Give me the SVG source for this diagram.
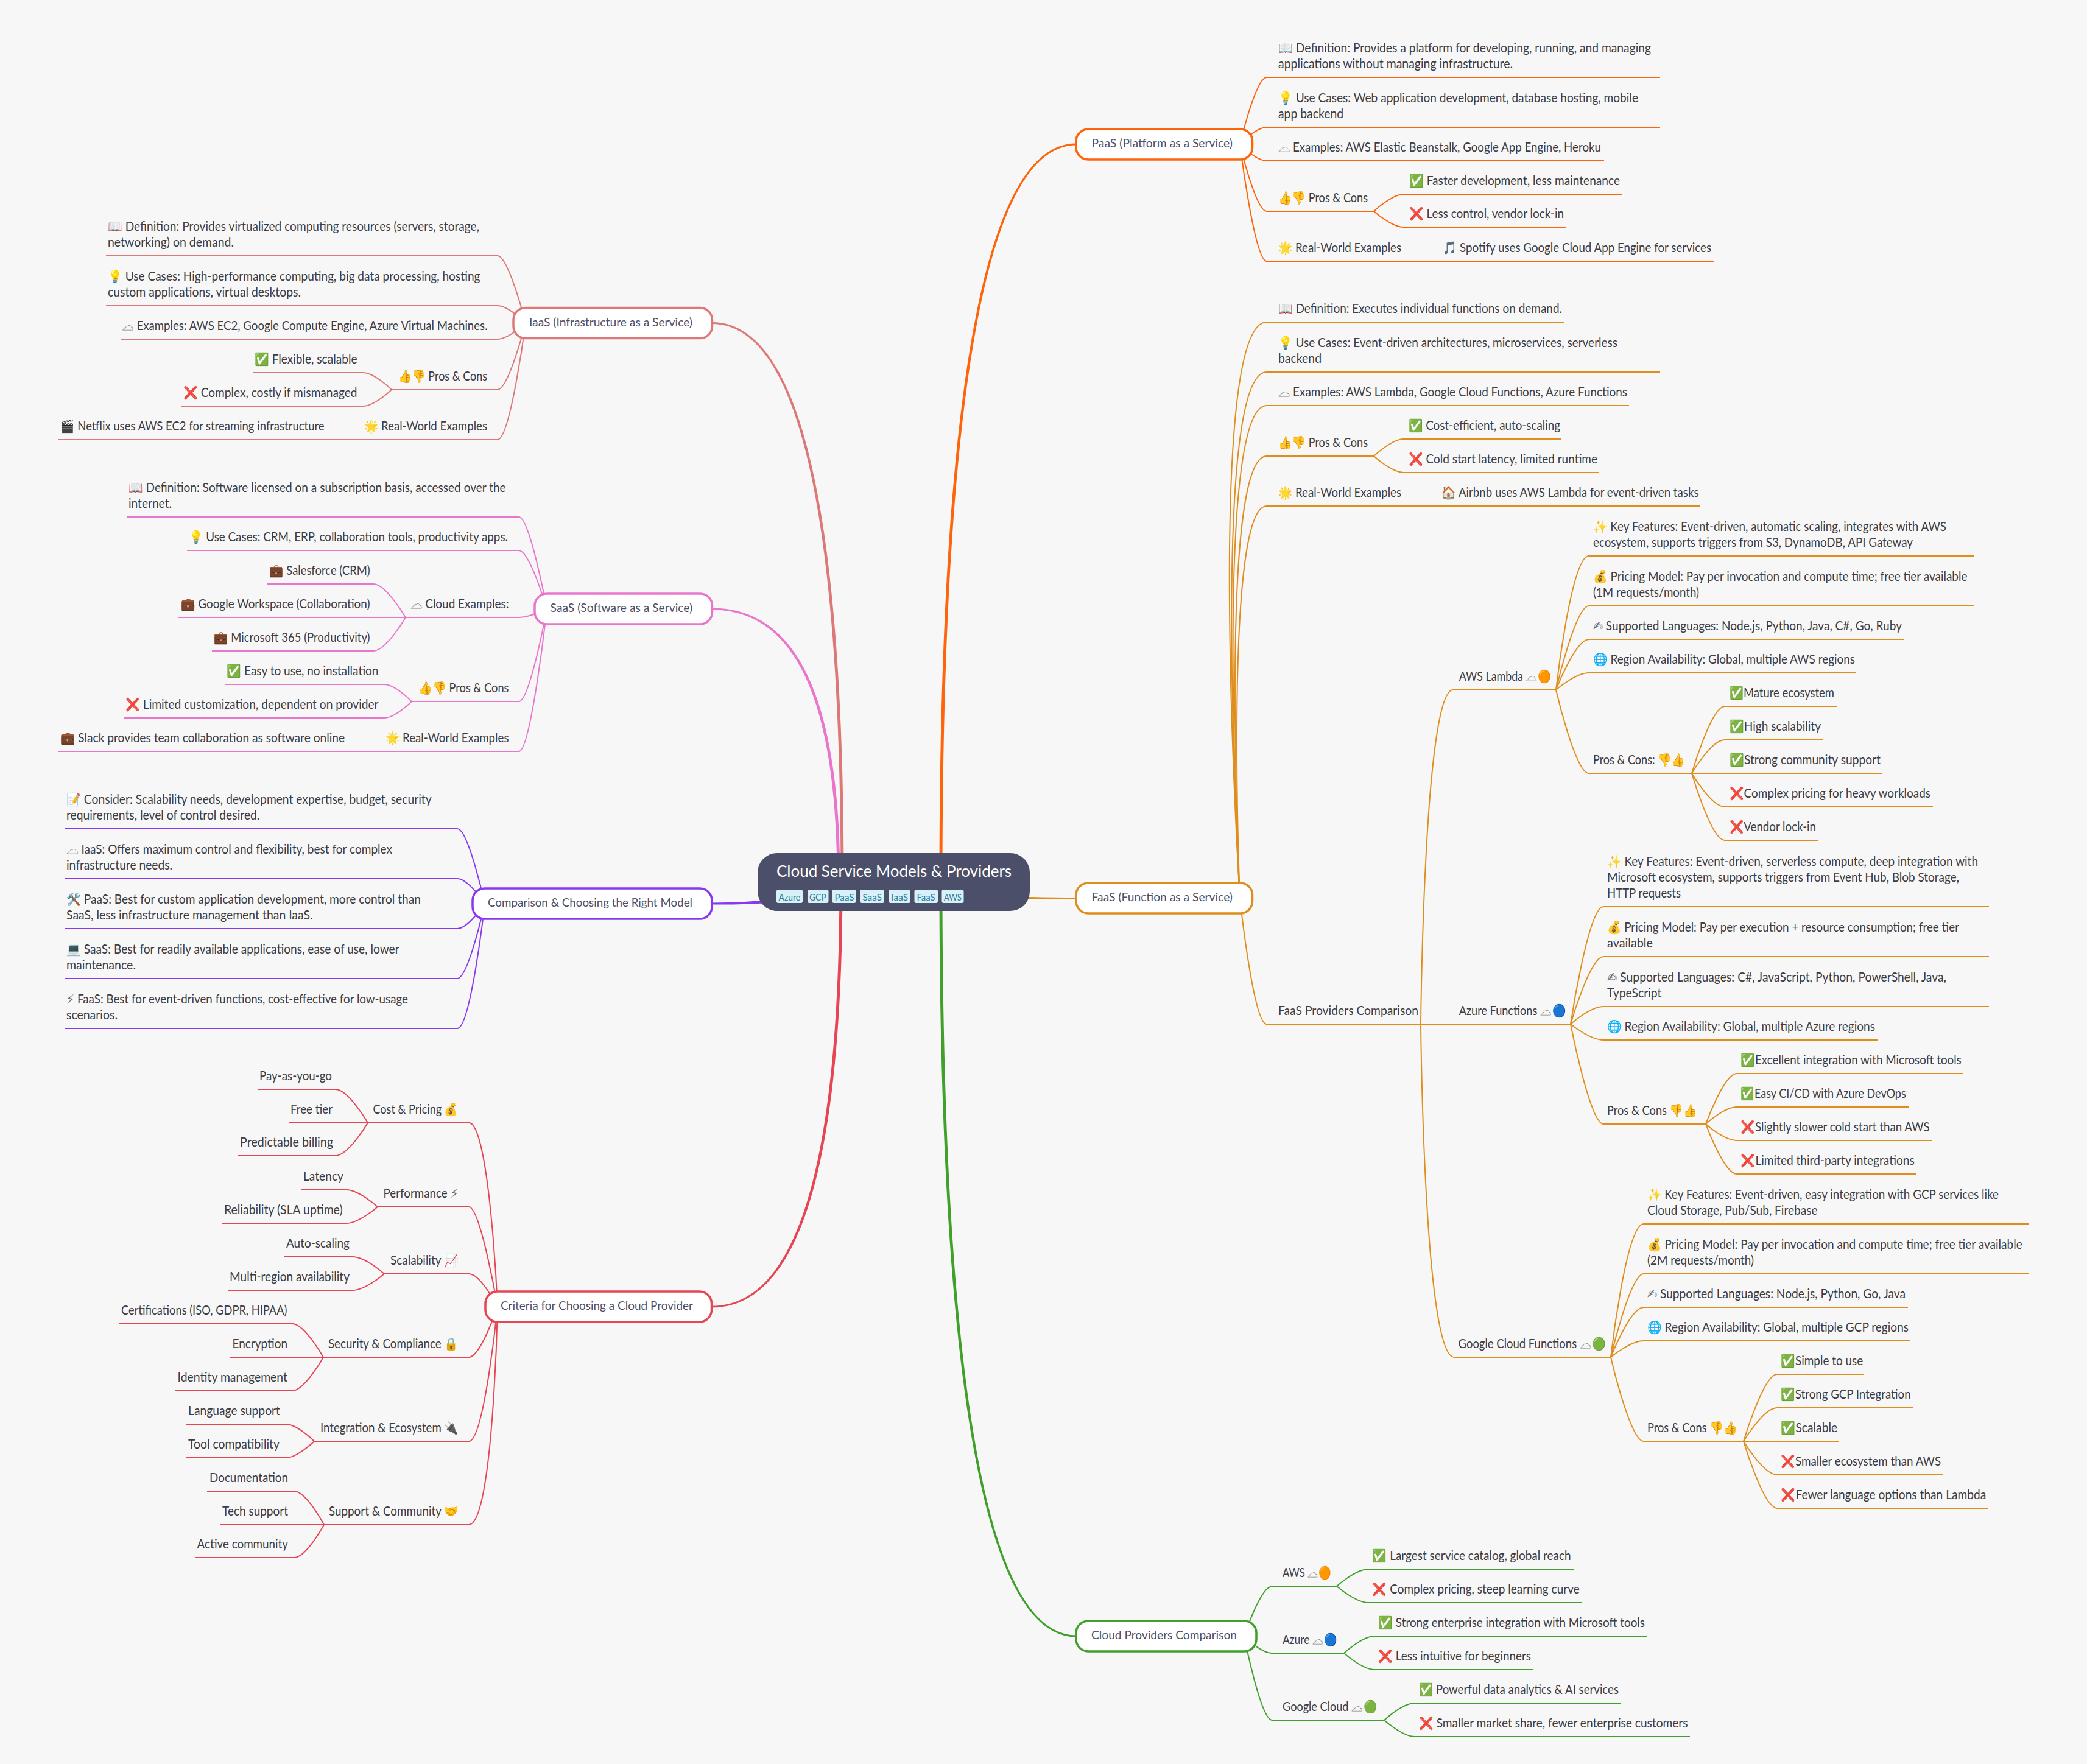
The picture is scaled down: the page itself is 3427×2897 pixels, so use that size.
<svg xmlns="http://www.w3.org/2000/svg" width="3427" height="2897" viewBox="0 0 3427 2897">
<style>
.bg{fill:#f7f7f7}
text{font-family:"Lato","Noto Sans","Noto Color Emoji",sans-serif;}
.t{font-size:20.5px;fill:#3c3c44;transform:translate(0,1.5px)}
.m{font-size:20px;fill:#4c4f69;transform:translate(0,-1.5px)}
.s{font-family:"DejaVu Sans",sans-serif;fill:#666}
.k{font-family:"DejaVu Sans",sans-serif;font-size:21px;fill:#f7f7f7;stroke:#8c8c8c;stroke-width:.7px}
.title{font-size:26.5px;fill:#fff}
.tag{font-size:15px;fill:#2f7f9e}
.tagbox{fill:#d8f1f8}
.root{fill:#4c4f69}
.node{fill:#fff;stroke-width:3.5}
#connectors g path{fill:none;stroke-width:2}
.paas{stroke:#fe640b}.paasf{fill:#fe640b}
.faas{stroke:#df8e1d}.faasf{fill:#df8e1d}
.cpc{stroke:#40a02b}.cpcf{fill:#40a02b}
.iaas{stroke:#dd7878}.iaasf{fill:#dd7878}
.saas{stroke:#ea76cb}.saasf{fill:#ea76cb}
.cmp{stroke:#8839ef}.cmpf{fill:#8839ef}
.crit{stroke:#e64553}.critf{fill:#e64553}
</style>
<rect class="bg" width="3427" height="2897"/>
<g id="connectors">
<g class="paas">
<path d="M2036 237C2036 237 2062 127 2080 127H2726"/>
<path d="M2036 237C2036 237 2062 209 2080 209H2726"/>
<path d="M2036 237C2036 237 2062 264 2080 264H2634"/>
<path d="M2036 237C2036 237 2062 347 2080 347H2256"/>
<path d="M2036 237C2036 237 2060 429 2080 429H2814"/>
<path d="M2256 347C2256 347 2285 319 2305 319H2664"/>
<path d="M2256 347C2256 347 2285 373 2305 373H2572"/>
</g>
<g class="faas">
<path d="M2036 1475C2036 1475 1976 529 2080 529H2568"/>
<path d="M2036 1475C2036 1475 1985 611 2080 611H2726"/>
<path d="M2036 1475C2036 1475 1991 666 2080 666H2675"/>
<path d="M2036 1475C2036 1475 2000 749 2080 749H2256"/>
<path d="M2036 1475C2036 1475 2009 831 2080 831H2792"/>
<path d="M2036 1475C2036 1475 2058 1682 2080 1682H2333"/>
<path d="M2256 749C2256 749 2285 721 2305 721H2564"/>
<path d="M2256 749C2256 749 2285 776 2305 776H2625"/>
<path d="M2333 1682C2333 1682 2338 1133 2386 1133H2555"/>
<path d="M2333 1682H2579"/>
<path d="M2333 1682C2333 1682 2338 2229 2388 2229H2645"/>
<path d="M2555 1133C2555 1133 2580 913 2609 913H3242"/>
<path d="M2555 1133C2555 1133 2587 995 2609 995H3242"/>
<path d="M2555 1133C2555 1133 2587 1050 2609 1050H3126"/>
<path d="M2555 1133C2555 1133 2587 1105 2609 1105H3048"/>
<path d="M2555 1133C2555 1133 2587 1270 2609 1270H2778"/>
<path d="M2778 1270C2778 1270 2810 1160 2832 1160H3017"/>
<path d="M2778 1270C2778 1270 2810 1215 2832 1215H2993"/>
<path d="M2778 1270H3091"/>
<path d="M2778 1270C2778 1270 2810 1325 2832 1325H3174"/>
<path d="M2778 1270C2778 1270 2810 1380 2832 1380H2986"/>
<path d="M2579 1682C2579 1682 2608 1489 2633 1489H3266"/>
<path d="M2579 1682C2579 1682 2611 1571 2633 1571H3266"/>
<path d="M2579 1682C2579 1682 2611 1653 2633 1653H3266"/>
<path d="M2579 1682C2579 1682 2611 1708 2633 1708H3083"/>
<path d="M2579 1682C2579 1682 2611 1846 2633 1846H2801"/>
<path d="M2801 1846C2801 1846 2831 1763 2852 1763H3224"/>
<path d="M2801 1846C2801 1846 2831 1818 2852 1818H3134"/>
<path d="M2801 1846C2801 1846 2831 1873 2852 1873H3172"/>
<path d="M2801 1846C2801 1846 2831 1928 2852 1928H3147"/>
<path d="M2645 2229C2645 2229 2670 2010 2699 2010H3332"/>
<path d="M2645 2229C2645 2229 2677 2092 2699 2092H3332"/>
<path d="M2645 2229C2645 2229 2677 2147 2699 2147H3133"/>
<path d="M2645 2229C2645 2229 2677 2202 2699 2202H3136"/>
<path d="M2645 2229C2645 2229 2677 2367 2699 2367H2863"/>
<path d="M2863 2367C2863 2367 2896 2257 2918 2257H3061"/>
<path d="M2863 2367C2863 2367 2896 2312 2918 2312H3141"/>
<path d="M2863 2367H3020"/>
<path d="M2863 2367C2863 2367 2896 2422 2918 2422H3191"/>
<path d="M2863 2367C2863 2367 2896 2477 2918 2477H3265"/>
</g>
<g class="cpc">
<path d="M2043 2687C2043 2687 2070 2605 2089 2605H2195"/>
<path d="M2043 2687C2043 2687 2070 2715 2089 2715H2207"/>
<path d="M2043 2687C2043 2687 2070 2825 2089 2825H2273"/>
<path d="M2195 2605C2195 2605 2226 2577 2247 2577H2584"/>
<path d="M2195 2605C2195 2605 2226 2632 2247 2632H2597"/>
<path d="M2207 2715C2207 2715 2237 2687 2257 2687H2704"/>
<path d="M2207 2715C2207 2715 2237 2742 2257 2742H2517"/>
<path d="M2273 2825C2273 2825 2303 2797 2323 2797H2662"/>
<path d="M2273 2825C2273 2825 2303 2852 2323 2852H2775"/>
</g>
<g class="iaas">
<path d="M863 530.5C863 530.5 835 420 817 420H174"/>
<path d="M863 530.5C863 530.5 835 502 817 502H174"/>
<path d="M863 530.5C863 530.5 835 557 817 557H198"/>
<path d="M863 530.5C863 530.5 835 640 817 640H643"/>
<path d="M863 530.5C863 530.5 838 722 817 722H95"/>
<path d="M643 640C643 640 615 612 596 612H415"/>
<path d="M643 640C643 640 615 667 596 667H298"/>
</g>
<g class="saas">
<path d="M898 1000C898 1000 870 849 852 849H208"/>
<path d="M898 1000C898 1000 870 904 852 904H307"/>
<path d="M898 1000C898 1000 870 1014 852 1014H666"/>
<path d="M898 1000C898 1000 870 1152 852 1152H676"/>
<path d="M898 1000C898 1000 872 1234 852 1234H96"/>
<path d="M666 1014C666 1014 634 959 613 959H439"/>
<path d="M666 1014H293"/>
<path d="M666 1014C666 1014 634 1069 613 1069H348"/>
<path d="M676 1152C676 1152 649 1124 631 1124H370"/>
<path d="M676 1152C676 1152 649 1179 631 1179H203"/>
</g>
<g class="cmp">
<path d="M796 1484C796 1484 769 1361 751 1361H106"/>
<path d="M796 1484C796 1484 769 1443 751 1443H106"/>
<path d="M796 1484C796 1484 769 1525 751 1525H106"/>
<path d="M796 1484C796 1484 769 1607 751 1607H106"/>
<path d="M796 1484C796 1484 773 1689 751 1689H106"/>
</g>
<g class="crit">
<path d="M817 2146C817 2146 804 1844 770 1844H604"/>
<path d="M817 2146C817 2146 789 1982 770 1982H620"/>
<path d="M817 2146C817 2146 789 2092 770 2092H631"/>
<path d="M817 2146C817 2146 789 2229 770 2229H531"/>
<path d="M817 2146C817 2146 795 2367 770 2367H516"/>
<path d="M817 2146C817 2146 810 2504 770 2504H532"/>
<path d="M604 1844C604 1844 572 1789 551 1789H423"/>
<path d="M604 1844H474"/>
<path d="M604 1844C604 1844 572 1898 551 1898H391"/>
<path d="M620 1982C620 1982 589 1954 569 1954H495"/>
<path d="M620 1982C620 1982 589 2009 569 2009H365"/>
<path d="M631 2092C631 2092 600 2064 579 2064H467"/>
<path d="M631 2092C631 2092 600 2119 579 2119H374"/>
<path d="M531 2229C531 2229 500 2174 480 2174H196"/>
<path d="M531 2229H378"/>
<path d="M531 2229C531 2229 500 2284 480 2284H288"/>
<path d="M516 2367C516 2367 488 2339 470 2339H305"/>
<path d="M516 2367C516 2367 488 2394 470 2394H305"/>
<path d="M532 2504C532 2504 503 2449 483 2449H340"/>
<path d="M532 2504H361"/>
<path d="M532 2504C532 2504 503 2558 483 2558H320"/>
</g>
<path class="iaasf" d="M1385.5 1448Q1385.5 529 1169 529V532Q1380.5 532 1380.5 1448Z"/>
<path class="saasf" d="M1379.5 1448Q1379.5 998.5 1169 998.5V1001.5Q1374.5 1001.5 1374.5 1448Z"/>
<path class="critf" d="M1383.5 1448Q1383.5 2147.5 1169 2147.5V2144.5Q1378.5 2144.5 1378.5 1448Z"/>
<path class="cmpf" d="M1300 1474Q1240 1482 1169 1482.5V1485.5Q1240 1486 1300 1480Z"/>
<path class="paasf" d="M1542.5 1448Q1542.5 235.5 1767 235.5V238.5Q1547.5 238.5 1547.5 1448Z"/>
<path class="faasf" d="M1600 1470Q1700 1474 1767 1474V1477Q1700 1477 1600 1474Z"/>
<path class="cpcf" d="M1542.5 1448Q1542.5 2688.5 1767 2688.5V2685.5Q1547.5 2685.5 1547.5 1448Z"/>
</g>
<g id="root">
<rect class="root" x="1244" y="1401" width="447" height="95" rx="32"/>
<text class="title" x="1275" y="1439.5" textLength="386" lengthAdjust="spacingAndGlyphs">Cloud Service Models &amp; Providers</text>
<rect class="tagbox" x="1275" y="1461" width="43" height="22" rx="3"/><text class="tag" x="1278.5" y="1478.5" textLength="35.6" lengthAdjust="spacingAndGlyphs">Azure</text>
<rect class="tagbox" x="1326" y="1461" width="34.5" height="22" rx="3"/><text class="tag" x="1329" y="1478.5" textLength="27.6" lengthAdjust="spacingAndGlyphs">GCP</text>
<rect class="tagbox" x="1366.5" y="1461" width="39" height="22" rx="3"/><text class="tag" x="1370.5" y="1478.5" textLength="32" lengthAdjust="spacingAndGlyphs">PaaS</text>
<rect class="tagbox" x="1412.5" y="1461" width="39.5" height="22" rx="3"/><text class="tag" x="1416.4" y="1478.5" textLength="31.6" lengthAdjust="spacingAndGlyphs">SaaS</text>
<rect class="tagbox" x="1459.5" y="1461" width="35.5" height="22" rx="3"/><text class="tag" x="1463.5" y="1478.5" textLength="27.5" lengthAdjust="spacingAndGlyphs">IaaS</text>
<rect class="tagbox" x="1501.5" y="1461" width="38.5" height="22" rx="3"/><text class="tag" x="1505.4" y="1478.5" textLength="30.4" lengthAdjust="spacingAndGlyphs">FaaS</text>
<rect class="tagbox" x="1546.5" y="1461" width="36" height="22" rx="3"/><text class="tag" x="1550" y="1478.5" textLength="29" lengthAdjust="spacingAndGlyphs">AWS</text>
</g>
<g id="paas"><rect class="node paas" x="1767" y="212" width="289.5" height="50" rx="20"/><text class="m" x="1792.6" y="243.5" textLength="231.4" lengthAdjust="spacingAndGlyphs">PaaS (Platform as a Service)</text></g>
<g id="faas"><rect class="node faas" x="1767" y="1450" width="289.5" height="50" rx="20"/><text class="m" x="1792.6" y="1481.5" textLength="231.4" lengthAdjust="spacingAndGlyphs">FaaS (Function as a Service)</text></g>
<g id="cpc"><rect class="node cpc" x="1767" y="2662" width="296" height="50" rx="20"/><text class="m" x="1792" y="2693.5" textLength="239" lengthAdjust="spacingAndGlyphs">Cloud Providers Comparison</text></g>
<g id="iaas"><rect class="node iaas" x="843" y="505.5" width="326.5" height="50" rx="20"/><text class="m" x="869" y="537" textLength="268" lengthAdjust="spacingAndGlyphs">IaaS (Infrastructure as a Service)</text></g>
<g id="saas"><rect class="node saas" x="878" y="975" width="291.5" height="50" rx="20"/><text class="m" x="903.6" y="1006.5" textLength="233.6" lengthAdjust="spacingAndGlyphs">SaaS (Software as a Service)</text></g>
<g id="cmp"><rect class="node cmp" x="776" y="1459" width="393" height="50" rx="20"/><text class="m" x="801" y="1490.5" textLength="336" lengthAdjust="spacingAndGlyphs">Comparison &amp; Choosing the Right Model</text></g>
<g id="crit"><rect class="node crit" x="797" y="2121" width="371.5" height="50" rx="20"/><text class="m" x="822" y="2152.5" textLength="316" lengthAdjust="spacingAndGlyphs">Criteria for Choosing a Cloud Provider</text></g>
<g id="paas-def"><text class="t" x="2099" y="84" textLength="612" lengthAdjust="spacingAndGlyphs">📖 Definition: Provides a platform for developing, running, and managing</text><text class="t" x="2099" y="110" textLength="385" lengthAdjust="spacingAndGlyphs">applications without managing infrastructure.</text></g>
<g id="paas-use"><text class="t" x="2099" y="166" textLength="591" lengthAdjust="spacingAndGlyphs">💡 Use Cases: Web application development, database hosting, mobile</text><text class="t" x="2099" y="192" textLength="107" lengthAdjust="spacingAndGlyphs">app backend</text></g>
<g id="paas-ex"><text class="t" x="2099" y="247" textLength="530" lengthAdjust="spacingAndGlyphs"><tspan class="k">☁&#xFE0E;</tspan> Examples: AWS Elastic Beanstalk, Google App Engine, Heroku</text></g>
<g id="paas-pc"><text class="t" x="2099" y="330" textLength="147" lengthAdjust="spacingAndGlyphs">👍👎 Pros &amp; Cons</text></g>
<g id="paas-p"><text class="t" x="2314" y="302" textLength="346" lengthAdjust="spacingAndGlyphs">✅ Faster development, less maintenance</text></g>
<g id="paas-c"><text class="t" x="2314" y="356" textLength="254" lengthAdjust="spacingAndGlyphs">❌ Less control, vendor lock-in</text></g>
<g id="paas-rw"><text class="t" x="2099" y="412" textLength="202" lengthAdjust="spacingAndGlyphs">🌟 Real-World Examples</text></g>
<g id="paas-sp"><text class="t" x="2369" y="412" textLength="441" lengthAdjust="spacingAndGlyphs">🎵 Spotify uses Google Cloud App Engine for services</text></g>
<g id="faas-def"><text class="t" x="2099" y="512" textLength="466" lengthAdjust="spacingAndGlyphs">📖 Definition: Executes individual functions on demand.</text></g>
<g id="faas-use"><text class="t" x="2099" y="568" textLength="557" lengthAdjust="spacingAndGlyphs">💡 Use Cases: Event-driven architectures, microservices, serverless</text><text class="t" x="2099" y="594" textLength="71" lengthAdjust="spacingAndGlyphs">backend</text></g>
<g id="faas-ex"><text class="t" x="2099" y="649" textLength="573" lengthAdjust="spacingAndGlyphs"><tspan class="k">☁&#xFE0E;</tspan> Examples: AWS Lambda, Google Cloud Functions, Azure Functions</text></g>
<g id="faas-pc"><text class="t" x="2099" y="732" textLength="147" lengthAdjust="spacingAndGlyphs">👍👎 Pros &amp; Cons</text></g>
<g id="faas-p"><text class="t" x="2313" y="704" textLength="249" lengthAdjust="spacingAndGlyphs">✅ Cost-efficient, auto-scaling</text></g>
<g id="faas-c"><text class="t" x="2313" y="759" textLength="310" lengthAdjust="spacingAndGlyphs">❌ Cold start latency, limited runtime</text></g>
<g id="faas-rw"><text class="t" x="2099" y="814" textLength="202" lengthAdjust="spacingAndGlyphs">🌟 Real-World Examples</text></g>
<g id="faas-ab"><text class="t" x="2367.5" y="814" textLength="422" lengthAdjust="spacingAndGlyphs">🏠 Airbnb uses AWS Lambda for event-driven tasks</text></g>
<g id="faas-prov"><text class="t" x="2099" y="1665" textLength="230" lengthAdjust="spacingAndGlyphs">FaaS Providers Comparison</text></g>
<g id="lambda"><text class="t" x="2395.7" y="1116" textLength="152" lengthAdjust="spacingAndGlyphs">AWS Lambda <tspan class="k">☁&#xFE0E;</tspan><tspan dx="2">🟠</tspan></text></g>
<g id="lambda-key"><text class="t" x="2616" y="870" textLength="580" lengthAdjust="spacingAndGlyphs">✨ Key Features: Event-driven, automatic scaling, integrates with AWS</text><text class="t" x="2616" y="896" textLength="525" lengthAdjust="spacingAndGlyphs">ecosystem, supports triggers from S3, DynamoDB, API Gateway</text></g>
<g id="lambda-price"><text class="t" x="2616" y="952" textLength="614.5" lengthAdjust="spacingAndGlyphs">💰 Pricing Model: Pay per invocation and compute time; free tier available</text><text class="t" x="2616" y="978" textLength="174" lengthAdjust="spacingAndGlyphs">(1M requests/month)</text></g>
<g id="lambda-lang"><text class="t" x="2616" y="1033" textLength="507" lengthAdjust="spacingAndGlyphs"><tspan class="s">✍&#xFE0E;</tspan> Supported Languages: Node.js, Python, Java, C#, Go, Ruby</text></g>
<g id="lambda-reg"><text class="t" x="2616" y="1088" textLength="430" lengthAdjust="spacingAndGlyphs">🌐 Region Availability: Global, multiple AWS regions</text></g>
<g id="lambda-pc"><text class="t" x="2616" y="1253" textLength="151" lengthAdjust="spacingAndGlyphs">Pros &amp; Cons: 👎👍</text></g>
<g id="lambda-1"><text class="t" x="2840" y="1143" textLength="172" lengthAdjust="spacingAndGlyphs">✅Mature ecosystem</text></g>
<g id="lambda-2"><text class="t" x="2840" y="1198" textLength="150" lengthAdjust="spacingAndGlyphs">✅High scalability</text></g>
<g id="lambda-3"><text class="t" x="2840" y="1253" textLength="248" lengthAdjust="spacingAndGlyphs">✅Strong community support</text></g>
<g id="lambda-4"><text class="t" x="2840" y="1308" textLength="330" lengthAdjust="spacingAndGlyphs">❌Complex pricing for heavy workloads</text></g>
<g id="lambda-5"><text class="t" x="2840" y="1363" textLength="142" lengthAdjust="spacingAndGlyphs">❌Vendor lock-in</text></g>
<g id="azure"><text class="t" x="2395.7" y="1665" textLength="176" lengthAdjust="spacingAndGlyphs">Azure Functions <tspan class="k">☁&#xFE0E;</tspan><tspan dx="2">🔵</tspan></text></g>
<g id="azure-key"><text class="t" x="2639" y="1420" textLength="609" lengthAdjust="spacingAndGlyphs">✨ Key Features: Event-driven, serverless compute, deep integration with</text><text class="t" x="2639" y="1446" textLength="578" lengthAdjust="spacingAndGlyphs">Microsoft ecosystem, supports triggers from Event Hub, Blob Storage,</text><text class="t" x="2639" y="1472" textLength="121" lengthAdjust="spacingAndGlyphs">HTTP requests</text></g>
<g id="azure-price"><text class="t" x="2639" y="1528" textLength="578" lengthAdjust="spacingAndGlyphs">💰 Pricing Model: Pay per execution + resource consumption; free tier</text><text class="t" x="2639" y="1554" textLength="75" lengthAdjust="spacingAndGlyphs">available</text></g>
<g id="azure-lang"><text class="t" x="2639" y="1610" textLength="557" lengthAdjust="spacingAndGlyphs"><tspan class="s">✍&#xFE0E;</tspan> Supported Languages: C#, JavaScript, Python, PowerShell, Java,</text><text class="t" x="2639" y="1636" textLength="89.5" lengthAdjust="spacingAndGlyphs">TypeScript</text></g>
<g id="azure-reg"><text class="t" x="2639" y="1691" textLength="440" lengthAdjust="spacingAndGlyphs">🌐 Region Availability: Global, multiple Azure regions</text></g>
<g id="azure-pc"><text class="t" x="2639" y="1829" textLength="148" lengthAdjust="spacingAndGlyphs">Pros &amp; Cons 👎👍</text></g>
<g id="azure-1"><text class="t" x="2858.7" y="1746" textLength="362" lengthAdjust="spacingAndGlyphs">✅Excellent integration with Microsoft tools</text></g>
<g id="azure-2"><text class="t" x="2858.7" y="1801" textLength="271" lengthAdjust="spacingAndGlyphs">✅Easy CI/CD with Azure DevOps</text></g>
<g id="azure-3"><text class="t" x="2858.7" y="1856" textLength="310" lengthAdjust="spacingAndGlyphs">❌Slightly slower cold start than AWS</text></g>
<g id="azure-4"><text class="t" x="2858.7" y="1911" textLength="285" lengthAdjust="spacingAndGlyphs">❌Limited third-party integrations</text></g>
<g id="gcf"><text class="t" x="2394.6" y="2212" textLength="243" lengthAdjust="spacingAndGlyphs">Google Cloud Functions <tspan class="k">☁&#xFE0E;</tspan><tspan dx="2">🟢</tspan></text></g>
<g id="gcf-key"><text class="t" x="2705" y="1967" textLength="577" lengthAdjust="spacingAndGlyphs">✨ Key Features: Event-driven, easy integration with GCP services like</text><text class="t" x="2705" y="1993" textLength="279.6" lengthAdjust="spacingAndGlyphs">Cloud Storage, Pub/Sub, Firebase</text></g>
<g id="gcf-price"><text class="t" x="2705" y="2049" textLength="615.7" lengthAdjust="spacingAndGlyphs">💰 Pricing Model: Pay per invocation and compute time; free tier available</text><text class="t" x="2705" y="2075" textLength="175" lengthAdjust="spacingAndGlyphs">(2M requests/month)</text></g>
<g id="gcf-lang"><text class="t" x="2705" y="2130" textLength="424" lengthAdjust="spacingAndGlyphs"><tspan class="s">✍&#xFE0E;</tspan> Supported Languages: Node.js, Python, Go, Java</text></g>
<g id="gcf-reg"><text class="t" x="2705" y="2185" textLength="429" lengthAdjust="spacingAndGlyphs">🌐 Region Availability: Global, multiple GCP regions</text></g>
<g id="gcf-pc"><text class="t" x="2705" y="2350" textLength="147.5" lengthAdjust="spacingAndGlyphs">Pros &amp; Cons 👎👍</text></g>
<g id="gcf-1"><text class="t" x="2924.6" y="2240" textLength="134.6" lengthAdjust="spacingAndGlyphs">✅Simple to use</text></g>
<g id="gcf-2"><text class="t" x="2924.6" y="2295" textLength="213" lengthAdjust="spacingAndGlyphs">✅Strong GCP Integration</text></g>
<g id="gcf-3"><text class="t" x="2924.6" y="2350" textLength="92.5" lengthAdjust="spacingAndGlyphs">✅Scalable</text></g>
<g id="gcf-4"><text class="t" x="2924.6" y="2405" textLength="262.5" lengthAdjust="spacingAndGlyphs">❌Smaller ecosystem than AWS</text></g>
<g id="gcf-5"><text class="t" x="2924.6" y="2460" textLength="336.6" lengthAdjust="spacingAndGlyphs">❌Fewer language options than Lambda</text></g>
<g id="cpc-aws"><text class="t" x="2106" y="2588" textLength="80.6" lengthAdjust="spacingAndGlyphs">AWS <tspan class="k">☁&#xFE0E;</tspan><tspan dx="2">🟠</tspan></text></g>
<g id="cpc-aws-p"><text class="t" x="2253.7" y="2560" textLength="326" lengthAdjust="spacingAndGlyphs">✅ Largest service catalog, global reach</text></g>
<g id="cpc-aws-c"><text class="t" x="2253.7" y="2615" textLength="340" lengthAdjust="spacingAndGlyphs">❌ Complex pricing, steep learning curve</text></g>
<g id="cpc-az"><text class="t" x="2106" y="2698" textLength="90" lengthAdjust="spacingAndGlyphs">Azure <tspan class="k">☁&#xFE0E;</tspan><tspan dx="2">🔵</tspan></text></g>
<g id="cpc-az-p"><text class="t" x="2263.5" y="2670" textLength="437.5" lengthAdjust="spacingAndGlyphs">✅ Strong enterprise integration with Microsoft tools</text></g>
<g id="cpc-az-c"><text class="t" x="2263.5" y="2725" textLength="250.5" lengthAdjust="spacingAndGlyphs">❌ Less intuitive for beginners</text></g>
<g id="cpc-gc"><text class="t" x="2106" y="2808" textLength="156" lengthAdjust="spacingAndGlyphs">Google Cloud <tspan class="k">☁&#xFE0E;</tspan><tspan dx="2">🟢</tspan></text></g>
<g id="cpc-gc-p"><text class="t" x="2330" y="2780" textLength="328" lengthAdjust="spacingAndGlyphs">✅ Powerful data analytics &amp; AI services</text></g>
<g id="cpc-gc-c"><text class="t" x="2330" y="2835" textLength="441.5" lengthAdjust="spacingAndGlyphs">❌ Smaller market share, fewer enterprise customers</text></g>
<g id="iaas-def"><text class="t" x="177" y="377" textLength="610" lengthAdjust="spacingAndGlyphs">📖 Definition: Provides virtualized computing resources (servers, storage,</text><text class="t" x="177" y="403" textLength="207" lengthAdjust="spacingAndGlyphs">networking) on demand.</text></g>
<g id="iaas-use"><text class="t" x="177" y="459" textLength="611.5" lengthAdjust="spacingAndGlyphs">💡 Use Cases: High-performance computing, big data processing, hosting</text><text class="t" x="177" y="485" textLength="317" lengthAdjust="spacingAndGlyphs">custom applications, virtual desktops.</text></g>
<g id="iaas-ex"><text class="t" x="200.6" y="540" textLength="600" lengthAdjust="spacingAndGlyphs"><tspan class="k">☁&#xFE0E;</tspan> Examples: AWS EC2, Google Compute Engine, Azure Virtual Machines.</text></g>
<g id="iaas-pc"><text class="t" x="654" y="623" textLength="146" lengthAdjust="spacingAndGlyphs">👍👎 Pros &amp; Cons</text></g>
<g id="iaas-p"><text class="t" x="418" y="595" textLength="168.5" lengthAdjust="spacingAndGlyphs">✅ Flexible, scalable</text></g>
<g id="iaas-c"><text class="t" x="301" y="650" textLength="285.5" lengthAdjust="spacingAndGlyphs">❌ Complex, costly if mismanaged</text></g>
<g id="iaas-rw"><text class="t" x="598" y="705" textLength="202" lengthAdjust="spacingAndGlyphs">🌟 Real-World Examples</text></g>
<g id="iaas-nf"><text class="t" x="99.6" y="705" textLength="433" lengthAdjust="spacingAndGlyphs">🎬 Netflix uses AWS EC2 for streaming infrastructure</text></g>
<g id="saas-def"><text class="t" x="211" y="806" textLength="619.6" lengthAdjust="spacingAndGlyphs">📖 Definition: Software licensed on a subscription basis, accessed over the</text><text class="t" x="211" y="832" textLength="71" lengthAdjust="spacingAndGlyphs">internet.</text></g>
<g id="saas-use"><text class="t" x="310" y="887" textLength="524" lengthAdjust="spacingAndGlyphs">💡 Use Cases: CRM, ERP, collaboration tools, productivity apps.</text></g>
<g id="saas-ce"><text class="t" x="674" y="997" textLength="161.5" lengthAdjust="spacingAndGlyphs"><tspan class="k">☁&#xFE0E;</tspan> Cloud Examples:</text></g>
<g id="saas-1"><text class="t" x="442.7" y="942" textLength="165" lengthAdjust="spacingAndGlyphs">💼 Salesforce (CRM)</text></g>
<g id="saas-2"><text class="t" x="297" y="997" textLength="310.5" lengthAdjust="spacingAndGlyphs">💼 Google Workspace (Collaboration)</text></g>
<g id="saas-3"><text class="t" x="351.5" y="1052" textLength="256" lengthAdjust="spacingAndGlyphs">💼 Microsoft 365 (Productivity)</text></g>
<g id="saas-pc"><text class="t" x="687.5" y="1135" textLength="148" lengthAdjust="spacingAndGlyphs">👍👎 Pros &amp; Cons</text></g>
<g id="saas-p"><text class="t" x="372.5" y="1107" textLength="249" lengthAdjust="spacingAndGlyphs">✅ Easy to use, no installation</text></g>
<g id="saas-c"><text class="t" x="206" y="1162" textLength="415.6" lengthAdjust="spacingAndGlyphs">❌ Limited customization, dependent on provider</text></g>
<g id="saas-rw"><text class="t" x="633" y="1217" textLength="202.5" lengthAdjust="spacingAndGlyphs">🌟 Real-World Examples</text></g>
<g id="saas-sl"><text class="t" x="99.6" y="1217" textLength="466.5" lengthAdjust="spacingAndGlyphs">💼 Slack provides team collaboration as software online</text></g>
<g id="cmp-1"><text class="t" x="109" y="1318" textLength="599.6" lengthAdjust="spacingAndGlyphs">📝 Consider: Scalability needs, development expertise, budget, security</text><text class="t" x="109" y="1344" textLength="317.4" lengthAdjust="spacingAndGlyphs">requirements, level of control desired.</text></g>
<g id="cmp-2"><text class="t" x="109" y="1400" textLength="535" lengthAdjust="spacingAndGlyphs"><tspan class="k">☁&#xFE0E;</tspan> IaaS: Offers maximum control and flexibility, best for complex</text><text class="t" x="109" y="1426" textLength="174" lengthAdjust="spacingAndGlyphs">infrastructure needs.</text></g>
<g id="cmp-3"><text class="t" x="109" y="1482" textLength="582" lengthAdjust="spacingAndGlyphs">🛠 PaaS: Best for custom application development, more control than</text><text class="t" x="109" y="1508" textLength="404.6" lengthAdjust="spacingAndGlyphs">SaaS, less infrastructure management than IaaS.</text></g>
<g id="cmp-4"><text class="t" x="109" y="1564" textLength="546.7" lengthAdjust="spacingAndGlyphs">💻 SaaS: Best for readily available applications, ease of use, lower</text><text class="t" x="109" y="1590" textLength="114" lengthAdjust="spacingAndGlyphs">maintenance.</text></g>
<g id="cmp-5"><text class="t" x="109" y="1646" textLength="561" lengthAdjust="spacingAndGlyphs"><tspan class="s">⚡&#xFE0E;</tspan> FaaS: Best for event-driven functions, cost-effective for low-usage</text><text class="t" x="109" y="1672" textLength="84" lengthAdjust="spacingAndGlyphs">scenarios.</text></g>
<g id="crit-cost"><text class="t" x="612.4" y="1827" textLength="140" lengthAdjust="spacingAndGlyphs">Cost &amp; Pricing 💰</text></g>
<g id="crit-c1"><text class="t" x="426" y="1772" textLength="119" lengthAdjust="spacingAndGlyphs">Pay-as-you-go</text></g>
<g id="crit-c2"><text class="t" x="477" y="1827" textLength="69" lengthAdjust="spacingAndGlyphs">Free tier</text></g>
<g id="crit-c3"><text class="t" x="394" y="1881" textLength="153" lengthAdjust="spacingAndGlyphs">Predictable billing</text></g>
<g id="crit-perf"><text class="t" x="629.6" y="1965" textLength="123" lengthAdjust="spacingAndGlyphs">Performance <tspan class="s">⚡&#xFE0E;</tspan></text></g>
<g id="crit-p1"><text class="t" x="498" y="1937" textLength="66" lengthAdjust="spacingAndGlyphs">Latency</text></g>
<g id="crit-p2"><text class="t" x="368" y="1992" textLength="194.6" lengthAdjust="spacingAndGlyphs">Reliability (SLA uptime)</text></g>
<g id="crit-scal"><text class="t" x="641" y="2075" textLength="111.6" lengthAdjust="spacingAndGlyphs">Scalability 📈</text></g>
<g id="crit-s1"><text class="t" x="470" y="2047" textLength="104" lengthAdjust="spacingAndGlyphs">Auto-scaling</text></g>
<g id="crit-s2"><text class="t" x="377" y="2102" textLength="197" lengthAdjust="spacingAndGlyphs">Multi-region availability</text></g>
<g id="crit-sec"><text class="t" x="539" y="2212" textLength="213.7" lengthAdjust="spacingAndGlyphs">Security &amp; Compliance 🔒</text></g>
<g id="crit-se1"><text class="t" x="199" y="2157" textLength="272.5" lengthAdjust="spacingAndGlyphs">Certifications (ISO, GDPR, HIPAA)</text></g>
<g id="crit-se2"><text class="t" x="381.5" y="2212" textLength="90.5" lengthAdjust="spacingAndGlyphs">Encryption</text></g>
<g id="crit-se3"><text class="t" x="291.6" y="2267" textLength="180.4" lengthAdjust="spacingAndGlyphs">Identity management</text></g>
<g id="crit-int"><text class="t" x="526" y="2350" textLength="226.6" lengthAdjust="spacingAndGlyphs">Integration &amp; Ecosystem 🔌</text></g>
<g id="crit-i1"><text class="t" x="309" y="2322" textLength="151" lengthAdjust="spacingAndGlyphs">Language support</text></g>
<g id="crit-i2"><text class="t" x="309" y="2377" textLength="150" lengthAdjust="spacingAndGlyphs">Tool compatibility</text></g>
<g id="crit-sup"><text class="t" x="540" y="2487" textLength="212.7" lengthAdjust="spacingAndGlyphs">Support &amp; Community 🤝</text></g>
<g id="crit-u1"><text class="t" x="344" y="2432" textLength="129" lengthAdjust="spacingAndGlyphs">Documentation</text></g>
<g id="crit-u2"><text class="t" x="365" y="2487" textLength="108" lengthAdjust="spacingAndGlyphs">Tech support</text></g>
<g id="crit-u3"><text class="t" x="323.5" y="2541" textLength="149.5" lengthAdjust="spacingAndGlyphs">Active community</text></g>
</svg>
